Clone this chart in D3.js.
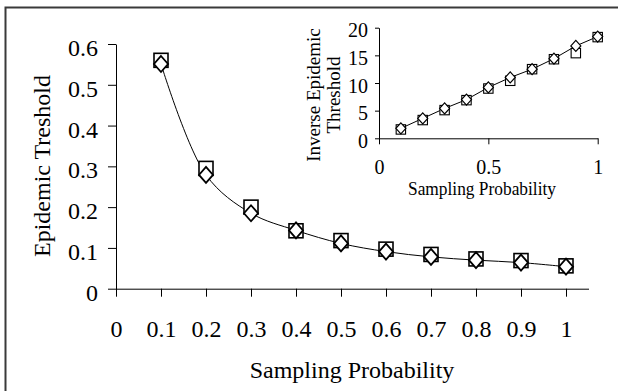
<!DOCTYPE html>
<html>
<head>
<meta charset="utf-8">
<script src="https://cdn.jsdelivr.net/npm/d3@7"></script>
<style>
  body { margin: 0; background: #fff; }
  svg text { font-family: "Liberation Serif", "Times New Roman", serif; fill: #000; }
  .domain, .tick line { stroke: #000; stroke-width: 1; }
</style>
</head>
<body>
<div class="chart"></div>
<script>
// sampling probabilities
var probs = [0.1, 0.2, 0.3, 0.4, 0.5, 0.6, 0.7, 0.8, 0.9, 1];

// main chart: epidemic threshold (squares / diamonds)
var thresholdSquares  = [0.56, 0.295, 0.2, 0.142, 0.118, 0.097, 0.084, 0.073, 0.069, 0.056];
var thresholdDiamonds = [0.551, 0.279, 0.185, 0.143, 0.111, 0.091, 0.078, 0.070, 0.064, 0.054];

// inset: inverse epidemic threshold
var inverseSquares  = [1.6, 3.3, 5.1, 6.9, 9.0, 10.4, 12.5, 14.3, 15.4, 18.3];
var inverseDiamonds = [1.8, 3.6, 5.4, 7.0, 9.2, 11.0, 12.5, 14.4, 16.7, 18.4];

// tick values
var mainXTicks = [0, 0.1, 0.2, 0.3, 0.4, 0.5, 0.6, 0.7, 0.8, 0.9, 1];
var mainYTicks = [0, 0.1, 0.2, 0.3, 0.4, 0.5, 0.6];
var insetXTicks = [0, 0.5, 1];
var insetYTicks = [0, 5, 10, 15, 20];

(function () {

  var width = 618, height = 391;

  var svg = d3.select(".chart")
    .append("svg")
    .attr("width", width)
    .attr("height", height);

  // outer frame (only top and left edges are visible)
  svg.append("path")
    .attr("d", "M5.5," + height + "V7.5H" + width)
    .attr("fill", "none")
    .attr("stroke", "#3a3a3a")
    .attr("stroke-width", 2);

  // ---------- main chart ----------
  var x = d3.scaleLinear().domain([0, 1.05]).range([116, 588.5]);
  var y = d3.scaleLinear().domain([0, 0.6]).range([288.7, 44]);

  var xAxis = svg.append("g")
    .attr("transform", "translate(0," + y(0) + ")")
    .call(d3.axisBottom(x).tickValues(mainXTicks).tickSize(8).tickPadding(23)
      .tickFormat(d3.format("")).tickSizeOuter(0));
  xAxis.selectAll("text").style("font-size", "24px");

  var yAxis = svg.append("g")
    .attr("transform", "translate(" + x(0) + ",0)")
    .call(d3.axisLeft(y).tickValues(mainYTicks).tickSize(8).tickPadding(10)
      .tickFormat(d3.format("")).tickSizeOuter(0));
  yAxis.selectAll("text").style("font-size", "24px").attr("dy", "0.48em");

  svg.append("text")
    .attr("x", 352)
    .attr("y", 378)
    .attr("text-anchor", "middle")
    .style("font-size", "24px")
    .text("Sampling Probability");

  svg.append("text")
    .attr("transform", "translate(50,166) rotate(-90)")
    .attr("text-anchor", "middle")
    .style("font-size", "24px")
    .text("Epidemic Treshold");

  var mainLine = d3.line()
    .x(function (d, i) { return x(probs[i]); })
    .y(function (d) { return y(d); })
    .curve(d3.curveCatmullRom);

  svg.append("path")
    .attr("d", mainLine(thresholdDiamonds))
    .attr("fill", "none")
    .attr("stroke", "#000")
    .attr("stroke-width", 1);

  // squares
  svg.append("g").selectAll("rect")
    .data(thresholdSquares)
    .enter()
    .append("rect")
    .attr("x", function (d, i) { return x(probs[i]) - 7; })
    .attr("y", function (d) { return y(d) - 7; })
    .attr("width", 14)
    .attr("height", 14)
    .attr("fill", "#fff")
    .attr("stroke", "#000")
    .attr("stroke-width", 1.6);

  // diamonds
  svg.append("g").selectAll("path")
    .data(thresholdDiamonds)
    .enter()
    .append("path")
    .attr("d", function (d, i) {
      var cx = x(probs[i]), cy = y(d);
      return "M" + cx + "," + (cy - 8) + "L" + (cx + 7) + "," + cy +
        "L" + cx + "," + (cy + 8) + "L" + (cx - 7) + "," + cy + "Z";
    })
    .attr("fill", "#fff")
    .attr("stroke", "#000")
    .attr("stroke-width", 1.8);

  // ---------- inset ----------
  var ix = d3.scaleLinear().domain([0, 1]).range([379, 597.7]);
  var iy = d3.scaleLinear().domain([0, 20]).range([138.3, 27.7]);

  var ixAxis = svg.append("g")
    .attr("transform", "translate(0," + iy(0) + ")")
    .call(d3.axisBottom(ix).tickValues(insetXTicks).tickSize(6).tickPadding(16)
      .tickFormat(d3.format("")).tickSizeOuter(0));
  ixAxis.selectAll("text").style("font-size", "20px");

  var iyAxis = svg.append("g")
    .attr("transform", "translate(" + ix(0) + ",0)")
    .call(d3.axisLeft(iy).tickValues(insetYTicks).tickSize(4).tickPadding(7)
      .tickSizeOuter(0));
  iyAxis.selectAll("text").style("font-size", "20px").attr("dy", "0.45em");

  svg.append("text")
    .attr("x", 482)
    .attr("y", 194.5)
    .attr("text-anchor", "middle")
    .attr("textLength", 148)
    .attr("lengthAdjust", "spacingAndGlyphs")
    .style("font-size", "18px")
    .text("Sampling Probability");

  svg.append("text")
    .attr("transform", "translate(320,95) rotate(-90)")
    .attr("text-anchor", "middle")
    .style("font-size", "19px")
    .text("Inverse Epidemic");

  svg.append("text")
    .attr("transform", "translate(340,95) rotate(-90)")
    .attr("text-anchor", "middle")
    .style("font-size", "19px")
    .text("Threshold");

  var insetLine = d3.line()
    .x(function (d, i) { return ix(probs[i]); })
    .y(function (d) { return iy(d); });

  svg.append("path")
    .attr("d", insetLine(inverseDiamonds))
    .attr("fill", "none")
    .attr("stroke", "#000")
    .attr("stroke-width", 1);

  svg.append("g").selectAll("rect")
    .data(inverseSquares)
    .enter()
    .append("rect")
    .attr("x", function (d, i) { return ix(probs[i]) - 4.7; })
    .attr("y", function (d) { return iy(d) - 4.7; })
    .attr("width", 9.4)
    .attr("height", 9.4)
    .attr("fill", "#fff")
    .attr("stroke", "#000")
    .attr("stroke-width", 1.1);

  svg.append("g").selectAll("path")
    .data(inverseDiamonds)
    .enter()
    .append("path")
    .attr("d", function (d, i) {
      var cx = ix(probs[i]), cy = iy(d);
      return "M" + cx + "," + (cy - 5.5) + "L" + (cx + 5) + "," + cy +
        "L" + cx + "," + (cy + 5.5) + "L" + (cx - 5) + "," + cy + "Z";
    })
    .attr("fill", "#fff")
    .attr("stroke", "#000")
    .attr("stroke-width", 1.2);

})();
</script>
</body>
</html>
